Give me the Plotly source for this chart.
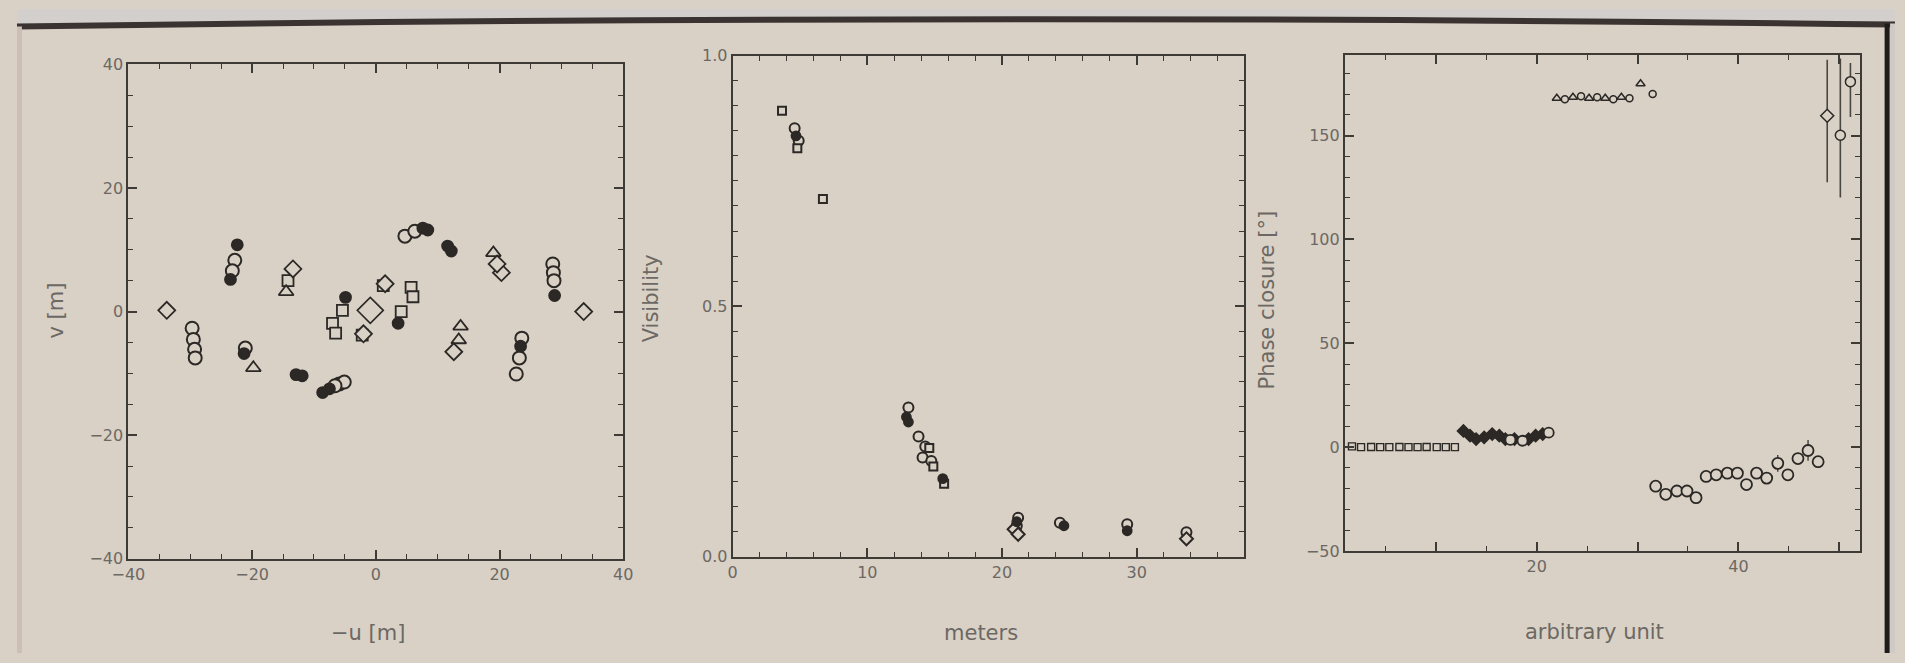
import plotly.graph_objects as go

W, H = 1905, 663
BG = "#d9d1c5"
LINE = "#3e3a36"
TXT = "#6c6864"
MK = "#2b2826"
FONT = "DejaVu Sans"

# ---------------- Panel 1 : (u, v) coverage ----------------
uv_circ_u = [-29.7, -29.5, -29.3, -29.2, -22.8, -23.2, -21.1, 4.7, 6.3, 28.6, 28.7, 28.8,
             23.6, 23.2, 22.7, -5.9, -5.1, -6.6]
uv_circ_v = [-2.7, -4.5, -6.1, -7.5, 8.3, 6.6, -5.9, 12.2, 13.0, 7.7, 6.3, 5.0,
             -4.3, -7.5, -10.1, -11.7, -11.4, -12.0]
uv_fill_u = [-22.4, -23.5, -4.9, 3.6, 7.6, 8.4, 11.6, 12.2, -12.9, -11.9, -8.6, -7.5, 23.4, 28.9, -21.3]
uv_fill_v = [10.8, 5.2, 2.3, -1.9, 13.5, 13.2, 10.6, 9.8, -10.2, -10.4, -13.1, -12.5, -5.6, 2.6, -6.8]
uv_sq_u = [-14.2, -5.4, -7.0, -6.5, -2.2, 1.2, 5.7, 6.0, 4.1]
uv_sq_v = [5.0, 0.2, -1.9, -3.5, -3.8, 4.2, 3.9, 2.4, 0.0]
uv_tri_u = [-14.5, -19.8, 19.0, 13.7, 13.4]
uv_tri_v = [3.2, -9.1, 9.5, -2.4, -4.6]
uv_dia_u = [-33.8, -13.4, 20.3, 19.6, 12.6, 33.6, -2.0, 1.5]
uv_dia_v = [0.2, 6.9, 6.3, 7.7, -6.5, 0.0, -3.6, 4.5]
uv_bigdia_u = [-0.9]
uv_bigdia_v = [0.2]

# ---------------- Panel 2 : visibility vs baseline ----------------
vis_circ_x = [4.6, 4.9, 13.05, 13.8, 14.3, 14.1, 14.75, 21.2, 21.1, 24.3, 29.3, 33.7]
vis_circ_y = [0.855, 0.83, 0.298, 0.24, 0.22, 0.198, 0.191, 0.078, 0.062, 0.068, 0.065, 0.049]
vis_fill_x = [4.7, 12.9, 13.05, 15.6, 24.6, 29.3, 21.1]
vis_fill_y = [0.84, 0.279, 0.269, 0.156, 0.062, 0.052, 0.07]
vis_sq_x = [3.66, 6.7, 4.8, 14.6, 14.9, 15.7]
vis_sq_y = [0.89, 0.714, 0.815, 0.217, 0.18, 0.146]
vis_dia_x = [20.9, 21.2, 33.7]
vis_dia_y = [0.055, 0.045, 0.036]

# ---------------- Panel 3 : phase closure ----------------
pc_sq_x = [1.7, 2.6, 3.6, 4.5, 5.4, 6.4, 7.3, 8.2, 9.1, 10.1, 11.0, 11.9]
pc_sq_y = [0.4, 0.0, 0.1, 0.0, 0.0, 0.1, 0.0, 0.0, 0.1, 0.0, 0.0, 0.0]
pc_cross_x = [12.75, 13.4, 14.0, 14.8, 15.6, 16.3, 16.9, 17.8, 19.2, 19.9, 20.6]
pc_cross_y = [7.8, 5.5, 3.9, 4.7, 6.3, 5.5, 3.9, 3.9, 3.9, 5.5, 6.3]
pc_c2_x = [18.6, 21.2, 17.4]
pc_c2_y = [3.1, 7.0, 3.5]
pc_tri_x = [22.0, 23.6, 25.2, 26.8, 28.4, 30.3]
pc_tri_y = [168.0, 168.5, 168.0, 168.0, 168.5, 175.0]
pc_tc_x = [22.8, 24.4, 26.0, 27.6, 29.2, 31.5]
pc_tc_y = [167.5, 169.0, 168.5, 167.5, 168.0, 170.0]
pc_c4_x = [31.8, 32.8, 33.9, 34.9, 35.8, 36.8, 37.8, 38.9, 39.9, 40.8, 41.8, 42.8,
           43.9, 44.9, 45.9, 46.9, 47.9]
pc_c4_y = [-18.8, -22.7, -21.1, -21.1, -24.3, -14.1, -13.3, -12.5, -12.5, -18.0, -12.5, -14.9,
           -7.8, -13.3, -5.5, -1.6, -7.0]
pc_c4_err = [0, 0, 0, 0, 0, 0, 0, 0, 0, 0, 0, 0, 4, 0, 0, 5, 0]
pc_eb_x = [48.8, 50.1, 51.1]
pc_eb_y = [159.6, 150.2, 176.0]
pc_eb_up = [27, 37, 9]
pc_eb_dn = [32, 30, 17]
pc_eb_sym = ["diamond", "circle", "circle"]

# tick labels
p1_ticks = [-40, -20, 0, 20, 40]
p2_xticks = [0, 10, 20, 30]
p2_yticks = [0.0, 0.5, 1.0]
p3_xticks = [10, 20, 30, 40, 50]
p3_xtext = ["", "20", "", "40", ""]
p3_yticks = [-50, 0, 50, 100, 150]

fig = go.Figure()


def sc(x, y, xa, ya, symbol, size, filled=False, lw=1.8, err=None):
    m = dict(symbol=symbol, size=size, color=MK if filled else BG,
             line=dict(color=MK, width=lw))
    t = go.Scatter(x=x, y=y, mode="markers", marker=m, xaxis=xa, yaxis=ya,
                   showlegend=False, hoverinfo="skip")
    if err is not None:
        t.error_y = err
    fig.add_trace(t)


# panel 1
sc(uv_circ_u, uv_circ_v, "x", "y", "circle", 13, lw=2)
sc(uv_sq_u, uv_sq_v, "x", "y", "square", 11, lw=1.8)
sc(uv_tri_u, uv_tri_v, "x", "y", "triangle-up", 13, lw=1.8)
sc(uv_dia_u, uv_dia_v, "x", "y", "diamond", 13, lw=1.8)
sc(uv_bigdia_u, uv_bigdia_v, "x", "y", "diamond", 20, lw=1.6)
sc(uv_fill_u, uv_fill_v, "x", "y", "circle", 11, filled=True)

# panel 2
sc(vis_circ_x, vis_circ_y, "x2", "y2", "circle", 10, lw=2)
sc(vis_sq_x, vis_sq_y, "x2", "y2", "square", 8, lw=2)
sc(vis_dia_x, vis_dia_y, "x2", "y2", "diamond", 10, lw=2)
sc(vis_fill_x, vis_fill_y, "x2", "y2", "circle", 9, filled=True)

# panel 3
sc(pc_sq_x, pc_sq_y, "x3", "y3", "square", 7, lw=1.4)
sc(pc_cross_x, pc_cross_y, "x3", "y3", "diamond", 9, filled=True)
sc(pc_c2_x, pc_c2_y, "x3", "y3", "circle", 10)
sc(pc_tri_x, pc_tri_y, "x3", "y3", "triangle-up", 8, lw=1.5)
sc(pc_tc_x, pc_tc_y, "x3", "y3", "circle", 7, lw=1.5)
sc(pc_c4_x, pc_c4_y, "x3", "y3", "circle", 11,
   err=dict(type="data", array=pc_c4_err, visible=True, color=MK, thickness=1.2, width=0))
fig.add_trace(go.Scatter(
    x=pc_eb_x, y=pc_eb_y, mode="markers", xaxis="x3", yaxis="y3", showlegend=False,
    hoverinfo="skip",
    marker=dict(symbol=pc_eb_sym, size=10, color=BG, line=dict(color=MK, width=1.5)),
    error_y=dict(type="data", symmetric=False, array=pc_eb_up, arrayminus=pc_eb_dn,
                 color="#4a4642", thickness=1.6, width=0)))


def px(x):
    return x / W


def py(y):
    return 1 - y / H


def axis(domain, rng, tickvals, minor_dtick, anchor, ticktext=None, fmt=None):
    d = dict(domain=domain, range=rng, showline=True, linecolor=LINE, linewidth=2,
             mirror="ticks", ticks="inside", ticklen=9, tickwidth=1.5, tickcolor=LINE,
             showgrid=False, zeroline=False, anchor=anchor,
             tickfont=dict(family=FONT, size=16, color=TXT),
             tickmode="array", tickvals=tickvals,
             minor=dict(ticks="inside", ticklen=5, tickwidth=1.2, tickcolor=LINE,
                        dtick=minor_dtick, tick0=0, showgrid=False))
    if ticktext is not None:
        d["ticktext"] = ticktext
    if fmt:
        d["tickformat"] = fmt
    return d


fig.update_layout(
    width=W, height=H, margin=dict(l=0, r=0, t=0, b=0),
    paper_bgcolor=BG, plot_bgcolor=BG, showlegend=False,
    xaxis=axis([px(113), px(615)], [-40, 40], p1_ticks, 5, "y"),
    yaxis=axis([py(566), py(57)], [-40, 40], p1_ticks, 5, "x"),
    xaxis2=axis([px(726), px(1245)], [0, 38], p2_xticks, 2, "y2"),
    yaxis2=axis([py(564), py(48)], [0, 1], p2_yticks, 0.05, "x2", fmt=".1f"),
    xaxis3=axis([px(1347), px(1869)], [1.0, 52], p3_xticks, 5, "y3", ticktext=p3_xtext),
    yaxis3=axis([py(558), py(47)], [-50, 189], p3_yticks, 10, "x3"),
)

title_font = dict(family=FONT, size=21, color=TXT)
ann = [
    ("\u2212u [m]", 356, 642, 0),
    ("meters", 978, 642, 0),
    ("arbitrary unit", 1600, 641, 0),
    ("v [m]", 40, 310, -90),
    ("Visibility", 644, 298, -90),
    ("Phase closure [\u00b0]", 1268, 300, -90),
]
for text, x, y, ang in ann:
    fig.add_annotation(text=text, x=px(x), y=py(y), xref="paper", yref="paper",
                       showarrow=False, textangle=ang, font=title_font,
                       xanchor="center", yanchor="middle")

# photo frame details: lighter strip above the screen edge, dark edge line, right border
fig.add_shape(type="path", xref="paper", yref="paper",
              path=f"M 0,1 L 0,{py(16)} Q 0.5,{py(2)} 1,{py(14)} L 1,1 Z",
              fillcolor="#d3cfcc", line=dict(width=0), layer="below")
fig.add_shape(type="path", xref="paper", yref="paper",
              path=f"M 0,{py(18)} Q 0.5,{py(4)} 1,{py(16)}",
              line=dict(color="#3a3331", width=6), layer="above")
fig.add_shape(type="line", xref="paper", yref="paper",
              x0=px(1897), x1=px(1897), y0=0, y1=py(15),
              line=dict(color="#1e1b1a", width=5))
fig.add_shape(type="rect", xref="paper", yref="paper",
              x0=px(1900), x1=1, y0=0, y1=py(15),
              fillcolor="#cfcac6", line=dict(width=0))
fig.add_shape(type="rect", xref="paper", yref="paper",
              x0=0, x1=px(5), y0=0, y1=py(18),
              fillcolor="#cbbfb6", line=dict(width=0))

fig.write_html("out.html")
